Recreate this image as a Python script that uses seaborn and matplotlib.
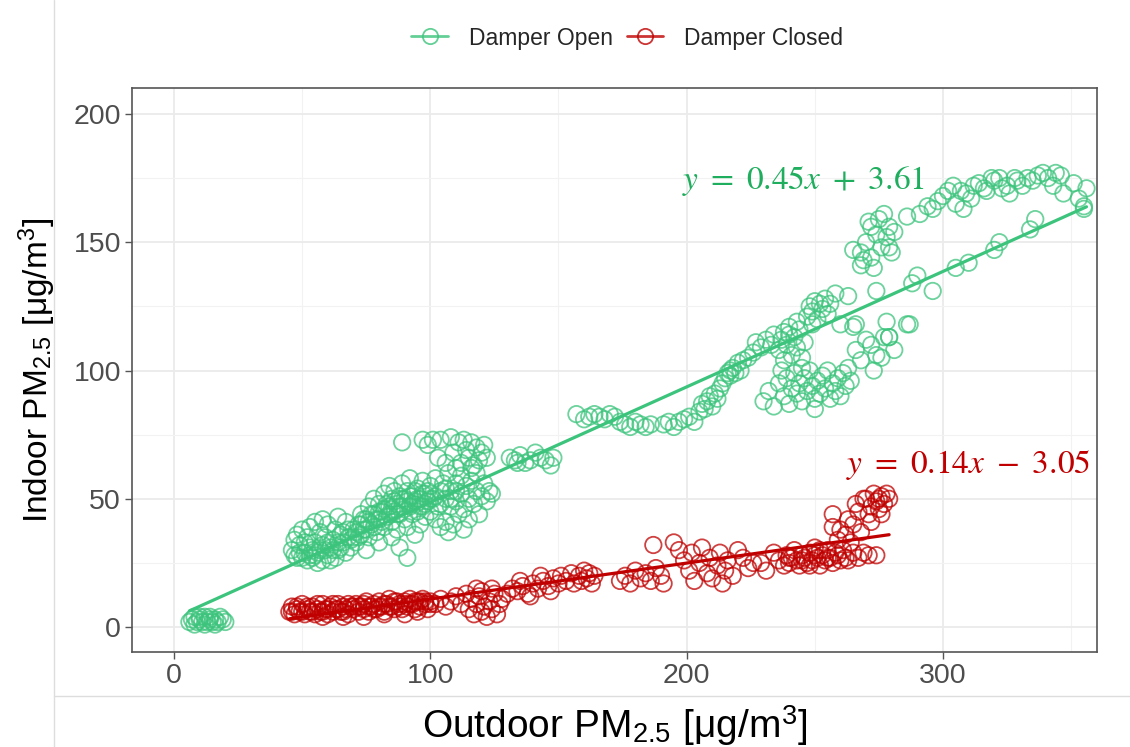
import numpy as np
import pandas as pd
import matplotlib
matplotlib.use("Agg")
import matplotlib.pyplot as plt
from matplotlib.lines import Line2D
import seaborn as sns

# ---------------- data ----------------
open_pts = [
    # near zero
    (6,2),(7,3),(8,1),(9,2),(10,3),(11,2),(12,4),(13,2),(14,3),(15,2),(16,3),(17,2),(18,4),(19,3),(20,2),(8,4),(12,1),(16,1),(10,4),(14,4),
    # lower-left blob
    (46,30),(47,34),(48,27),(49,32),(50,38),(51,29),(52,35),(53,31),(54,27),(55,41),(55,33),(56,29),(57,37),(58,26),(58,32),(59,35),(60,28),(60,40),(61,31),(62,34),(63,27),(63,38),(64,30),(65,36),(66,33),(67,29),(67,41),(68,35),(69,31),(70,38),(52,26),(56,25),(61,26),(48,36),(53,39),(58,42),(64,43),
    (47,28),(49,29),(50,27),(51,33),(53,28),(54,30),(55,28),(57,30),(59,30),(60,33),(62,30),(64,33),(65,31),(66,37),(68,38),(69,34),(70,35),
    # dense middle
    (71,33),(72,40),(73,36),(73,44),(74,38),(75,42),(76,35),(76,47),(77,40),(78,44),(78,50),(79,37),(80,42),(80,48),(81,45),(82,39),(82,52),(83,43),(84,47),(84,55),(85,41),(85,50),(86,45),(86,53),(87,48),(87,38),(88,51),(88,44),(89,56),(89,47),(90,42),(90,50),(91,53),(91,39),(92,47),(92,58),(93,44),(93,51),(94,49),(94,36),(95,54),(95,45),(96,50),(96,40),(97,47),(97,57),(98,43),(98,52),(99,49),(100,45),(100,55),(75,30),(80,33),(85,35),(88,31),(91,27),
    (71,37),(72,35),(73,40),(74,42),(75,38),(76,41),(77,44),(78,39),(79,42),(80,45),(81,41),(82,46),(83,48),(84,44),(85,46),(86,49),(87,44),(88,47),(89,50),(90,46),(91,49),(92,51),(93,48),(94,53),(95,50),(96,47),(97,52),(98,48),(99,53),(100,50),
    # right of dense
    (101,50),(102,42),(102,58),(103,47),(104,53),(104,39),(105,56),(106,50),(106,41),(107,60),(108,47),(108,53),(109,40),(110,56),(110,49),(111,44),(112,52),(112,59),(113,46),(114,55),(115,42),(115,50),(116,57),(117,48),(118,53),(119,44),(120,51),(121,56),(122,49),(123,53),(124,52),(118,60),(113,38),(107,37),(110,62),(116,62),
    (102,51),(104,48),(106,54),(108,50),(110,53),
    # upper arc
    (89,72),(97,73),(99,71),(101,73),(104,73),(108,74),(111,72),(113,73),(116,72),(118,70),(120,68),(121,71),(119,65),(117,63),(115,66),(112,64),(106,64),(103,66),(109,68),(122,66),(114,69),
    (131,66),(133,65),(135,67),(137,64),(139,65),(141,68),(143,66),(145,65),(147,63),(148,66),(134,64),
    (157,83),(160,81),(162,82),(164,83),(166,82),(168,81),(170,83),(172,82),(174,80),(176,79),(178,78),(180,80),(182,79),(184,78),(186,79),(191,79),(193,80),(195,78),(197,80),(199,81),(201,82),(203,80),(205,84),(206,87),(207,85),(208,88),(209,90),(210,86),(211,91),(212,89),(213,93),
    (214,95),(215,97),(216,99),(217,100),(217,98),(218,101),(219,99),(220,103),(221,100),(222,104),(224,105),(226,107),(227,111),(229,109),(231,112),(233,110),(234,114),
    (236,108),(237,112),(238,115),(239,110),(240,114),(240,117),(241,106),(242,113),(243,109),(244,116),(245,105),(246,111),(247,121),(248,125),(249,123),(250,127),(251,120),(252,126),(253,124),(254,128),(255,122),(256,126),(258,130),(238,104),(243,119),(249,118),
    (230,88),(232,92),(234,86),(236,95),(238,90),(239,97),(240,87),(241,93),(242,99),(243,91),(244,95),(245,88),(246,97),(247,92),(248,100),(249,94),(250,89),(251,96),(252,91),(253,98),(254,93),(255,100),(256,89),(257,95),(258,92),(259,97),(260,90),(261,99),(262,94),(263,101),(264,96),(245,101),(237,100),(250,85),
    (266,108),(268,104),(270,112),(272,110),(273,100),(274,106),(276,105),(277,113),(278,119),(279,113),(281,108),(286,118),(266,118),(265,117),(260,118),
    (265,147),(268,146),(269,143),(270,150),(272,144),(272,156),(274,153),(275,159),(276,148),(278,152),(279,156),(279,148),(280,146),(281,154),(271,158),(277,161),(273,140),(268,141),
    (286,160),(291,161),(294,164),(296,163),(298,166),(300,168),(302,170),(304,172),(305,165),(307,170),(308,163),(309,169),(311,167),(312,172),(314,173),(316,171),(317,170),(319,175),(320,174),(322,175),(323,171),(325,172),(326,169),(328,175),(329,174),(331,172),(333,175),(335,174),(337,176),(339,177),(341,175),(343,172),(344,177),(346,176),(351,173),(353,167),(355,163),(356,171),(347,169),
    (263,129),(274,131),(288,134),(290,137),(296,131),(305,140),(310,142),(320,147),(322,150),(334,155),(336,159),(355,164),(287,118),(279,113),
]
closed_pts = [
    (45,6),(46,8),(47,5),(48,7),(49,6),(50,9),(51,5),(52,7),(53,6),(54,8),(55,5),(56,7),(57,6),(58,9),(59,7),(60,5),(61,8),(62,6),(63,7),(64,9),(65,6),(66,8),(67,7),(68,5),(69,8),(70,7),(71,9),(72,6),(73,8),(74,7),(75,10),(76,6),(77,8),(78,9),(79,7),(80,10),(81,8),(82,6),(83,9),(84,11),(85,8),(86,7),(87,10),(88,9),(89,7),(90,10),(91,8),(92,11),(93,9),(94,7),(95,10),(96,8),(97,11),(98,9),(99,7),(100,10),(102,9),(104,11),(106,8),(108,10),(110,12),(112,9),(114,13),(116,11),(58,4),(66,4),(74,4),(82,5),(90,5),(95,6),
    (46,6),(48,8),(50,6),(52,8),(54,6),(56,9),(58,6),(60,7),(62,9),(64,7),(66,6),(68,9),(70,8),(72,8),(74,9),(76,8),(78,7),(80,8),(82,9),(84,8),(86,10),(88,8),(90,9),(92,9),(94,10),(96,10),(98,10),(100,9),
    (115,7),(117,5),(118,9),(119,12),(120,6),(121,8),(122,4),(123,10),(124,7),(125,13),(126,5),(127,9),(128,11),(120,14),(118,15),(124,15),
    (130,13),(132,15),(134,14),(136,16),(138,13),(140,17),(142,15),(144,18),(146,16),(148,19),(150,17),(151,20),(153,18),(155,21),(156,17),(158,20),(159,18),(160,22),(161,19),(162,21),(163,17),(164,20),(139,12),(147,14),(135,18),(143,20),
    (174,18),(176,20),(178,17),(180,22),(182,19),(184,21),(186,18),(188,23),(190,20),(191,17),(187,32),(195,33),(197,30),(199,26),(201,22),(202,29),(203,18),(205,25),(206,31),(208,21),(209,27),(210,19),(212,24),(213,29),(214,17),(215,22),(216,26),(218,20),(220,30),(222,27),(224,23),(226,25),(229,25),(231,22),(234,29),(236,26),(238,24),(239,28),(240,25),(241,27),(242,30),(243,26),(244,24),(245,28),(246,27),(247,25),(248,29),(249,26),(250,31),(251,27),(252,24),(253,28),(254,26),(255,30),(256,27),(257,25),(258,29),(259,28),(260,26),(261,30),(262,27),(263,26),(265,29),(267,27),(269,29),(271,28),(274,28),
    (240,27),(245,26),(250,28),(255,27),(248,24),(252,30),
    (257,44),(257,39),(259,34),(260,38),(262,36),(263,42),(264,33),(265,40),(266,48),(267,45),(268,37),(269,50),(270,50),(271,44),(272,47),(273,52),(274,49),(275,50),(275,46),(276,51),(277,48),(278,52),(279,50),(276,44),(272,41),
]
open_x = [p[0] for p in open_pts]
open_y = [p[1] for p in open_pts]
closed_x = [p[0] for p in closed_pts]
closed_y = [p[1] for p in closed_pts]

groups = ["Damper Open", "Damper Closed"]
slopes = [0.45, 0.14]
intercepts = [3.61, -3.05]
eq_labels = [r"$y\ =\ 0.45x\ +\ 3.61$", r"$y\ =\ 0.14x\ -\ 3.05$"]
x_ticks = [0, 100, 200, 300]
y_ticks = [0, 50, 100, 150, 200]

colors = {"Damper Open": "#3cc47c", "Damper Closed": "#c00000"}
text_colors = {"Damper Open": "#1fae5e", "Damper Closed": "#c00000"}

df = pd.DataFrame({
    "x": open_x + closed_x,
    "y": open_y + closed_y,
    "group": ["Damper Open"] * len(open_x) + ["Damper Closed"] * len(closed_x),
})

# ---------------- plot ----------------
sns.set_theme(style="whitegrid")
plt.rcParams["font.family"] = ["Liberation Sans", "DejaVu Sans"]
plt.rcParams["mathtext.fontset"] = "stix"
plt.rcParams["mathtext.default"] = "it"

fig = plt.figure(figsize=(11.3, 7.47), dpi=100)
ax = fig.add_axes([132/1130, 1-652/747, (1097-132)/1130, (652-88)/747])

for g in groups:
    sub = df[df["group"] == g]
    sns.scatterplot(data=sub, x="x", y="y", ax=ax, s=140, marker="o",
                    facecolors="none", edgecolor=colors[g], linewidth=1.3,
                    alpha=0.75, legend=False, zorder=3)

for g, m, b in zip(groups, slopes, intercepts):
    sub = df[df["group"] == g]
    xs = np.array([sub["x"].min(), sub["x"].max()])
    sns.lineplot(x=xs, y=m * xs + b, ax=ax, color=colors[g], linewidth=2.3,
                 legend=False, zorder=4)

ax.text(198, 174, eq_labels[0], color=text_colors["Damper Open"], fontsize=24,
        ha="left", va="center")
ax.text(262, 63, eq_labels[1], color=text_colors["Damper Closed"], fontsize=24,
        ha="left", va="center")

ax.set_xlim(-16.4, 360.1)
ax.set_ylim(-9.7, 210.1)
ax.set_xticks(x_ticks)
ax.set_yticks(y_ticks)
ax.set_xticks([50, 150, 250, 350], minor=True)
ax.set_yticks([25, 75, 125, 175], minor=True)
ax.grid(which="major", color="#ebebeb", linewidth=1.3)
ax.grid(which="minor", color="#f2f2f2", linewidth=0.8)
ax.set_facecolor("white")
for sp in ax.spines.values():
    sp.set_color("#555555")
    sp.set_linewidth(1.2)
ax.tick_params(axis="both", which="major", length=5, width=1, color="#555555",
               labelsize=20.5, labelcolor="#4d4d4d", pad=3, bottom=True, left=True)
ax.tick_params(which="minor", length=0)

ax.set_xlabel(r"Outdoor PM$_{\mathregular{2.5}}$ [μg/m$^{\mathregular{3}}$]", fontsize=28,
              color="black", labelpad=10)
ax.set_ylabel(r"Indoor PM$_{\mathregular{2.5}}$ [μg/m$^{\mathregular{3}}$]", fontsize=24,
              color="black", labelpad=12)

handles = [Line2D([0], [0], color=colors[g], marker="o", markersize=11,
                  markerfacecolor="none", markeredgewidth=1.3, linewidth=2, alpha=0.8)
           for g in groups]
fig.legend(handles, groups, loc="center", bbox_to_anchor=(0.555, 1-38/747), ncol=2,
           frameon=False, fontsize=16.5, handlelength=1.6, columnspacing=0.6,
           handletextpad=0.9)

# faint outer frame from the original screenshot
fig.add_artist(Line2D([54/1130, 54/1130], [0, 1], transform=fig.transFigure,
                      color="#dddddd", linewidth=1))
fig.add_artist(Line2D([54/1130, 1], [1-696/747, 1-696/747], transform=fig.transFigure,
                      color="#dddddd", linewidth=1))

fig.savefig("out.png", dpi=100)
